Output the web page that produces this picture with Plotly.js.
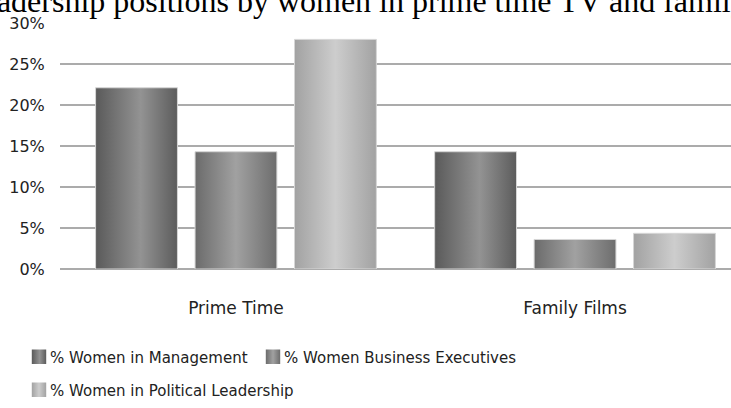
<!DOCTYPE html>
<html>
<head>
<meta charset="utf-8">
<script src="https://cdn.plot.ly/plotly-3.0.1.min.js"></script>
<style>
html,body{margin:0;padding:0;background:#fff;}
#chart{width:731px;height:408px;}
</style>
</head>
<body>
<div id="chart"></div>
<script>
const categories = ["Prime Time", "Family Films"];
const seriesNames = ["% Women in Management", "% Women Business Executives", "% Women in Political Leadership"];
const management = [22.1, 14.3];
const businessExecutives = [14.3, 3.6];
const politicalLeadership = [28.0, 4.35];
const tickValues = [0, 5, 10, 15, 20, 25, 30];
const tickLabels = ["0%", "5%", "10%", "15%", "20%", "25%", "30%"];
const titleText = "Leadership positions by women in prime time TV and family films";

const baseColors = ["#777777", "#888888", "#b8b8b8"];
const gradients = [
  [["0%", "#5a5a5a"], ["55%", "#939393"], ["100%", "#5c5c5c"]],
  [["0%", "#6b6b6b"], ["50%", "#a1a1a1"], ["100%", "#6d6d6d"]],
  [["0%", "#a2a2a2"], ["50%", "#cdcdcd"], ["100%", "#a2a2a2"]]
];
const legendIds = ["legend", "legend2", "legend3"];

const font = "DejaVu Sans, sans-serif";
const values = [management, businessExecutives, politicalLeadership];
const traces = values.map((v, i) => ({
  type: "bar",
  name: seriesNames[i],
  x: categories,
  y: v,
  legend: legendIds[i],
  marker: {color: baseColors[i], line: {color: "#d6d6d6", width: 1}},
  hoverinfo: "none"
}));

const legendBase = {orientation: "h", xref: "container", yref: "container", xanchor: "left", yanchor: "middle",
  font: {family: font, size: 15, color: "#222"}, bgcolor: "rgba(0,0,0,0)", itemclick: false, itemdoubleclick: false};

const layout = {
  width: 731, height: 408,
  margin: {l: 60, r: 0, t: 23, b: 139, pad: 0},
  paper_bgcolor: "#fff", plot_bgcolor: "#fff",
  title: {text: titleText, font: {family: "Liberation Serif, serif", size: 32, color: "#000"},
          xref: "container", x: 0.536, xanchor: "center", yref: "container", y: 0.999, yanchor: "middle"},
  barmode: "group", bargap: 0.12, bargroupgap: 0.177,
  xaxis: {range: [-0.519, 1.46], showgrid: false, zeroline: false, showline: false,
          ticks: "outside", ticklen: 24, tickcolor: "rgba(0,0,0,0)",
          tickfont: {family: font, size: 17, color: "#222"}, fixedrange: true},
  yaxis: {range: [0, 30], tickvals: tickValues, ticktext: tickLabels, showgrid: true,
          gridcolor: "#ababab", gridwidth: 2, zeroline: true, zerolinecolor: "#ababab", zerolinewidth: 2,
          showline: false, ticks: "outside", ticklen: 11, tickcolor: "rgba(0,0,0,0)",
          tickfont: {family: font, size: 16, color: "#222"}, fixedrange: true},
  showlegend: true,
  legend: Object.assign({}, legendBase, {x: 10 / 731, y: 1 - 357 / 408}),
  legend2: Object.assign({}, legendBase, {x: 244 / 731, y: 1 - 357 / 408}),
  legend3: Object.assign({}, legendBase, {x: 10 / 731, y: 1 - 390 / 408})
};

Plotly.newPlot("chart", traces, layout, {displayModeBar: false, staticPlot: true}).then(gd => {
  const svgNS = "http://www.w3.org/2000/svg";
  const svg = gd.querySelector(".main-svg");
  let defs = svg.querySelector("defs");
  if (!defs) { defs = document.createElementNS(svgNS, "defs"); svg.insertBefore(defs, svg.firstChild); }
  gradients.forEach((stops, i) => {
    const lg = document.createElementNS(svgNS, "linearGradient");
    lg.setAttribute("id", "barGrad" + i);
    lg.setAttribute("x1", "0"); lg.setAttribute("y1", "0");
    lg.setAttribute("x2", "1"); lg.setAttribute("y2", "0");
    stops.forEach(s => {
      const st = document.createElementNS(svgNS, "stop");
      st.setAttribute("offset", s[0]); st.setAttribute("stop-color", s[1]);
      lg.appendChild(st);
    });
    defs.appendChild(lg);
  });
  gd.querySelectorAll(".barlayer .trace").forEach((t, i) => {
    t.querySelectorAll("path").forEach(p => { p.style.fill = "url(#barGrad" + i + ")"; });
  });
  legendIds.forEach((id, i) => {
    const lgd = gd.querySelector("." + id);
    if (!lgd) return;
    lgd.querySelectorAll(".legendpoints path").forEach(p => {
      p.style.fill = "url(#barGrad" + i + ")"; p.style.stroke = "none";
      p.setAttribute("transform", "translate(29,0) scale(1.2)");
    });
  });
});
</script>
</body>
</html>
